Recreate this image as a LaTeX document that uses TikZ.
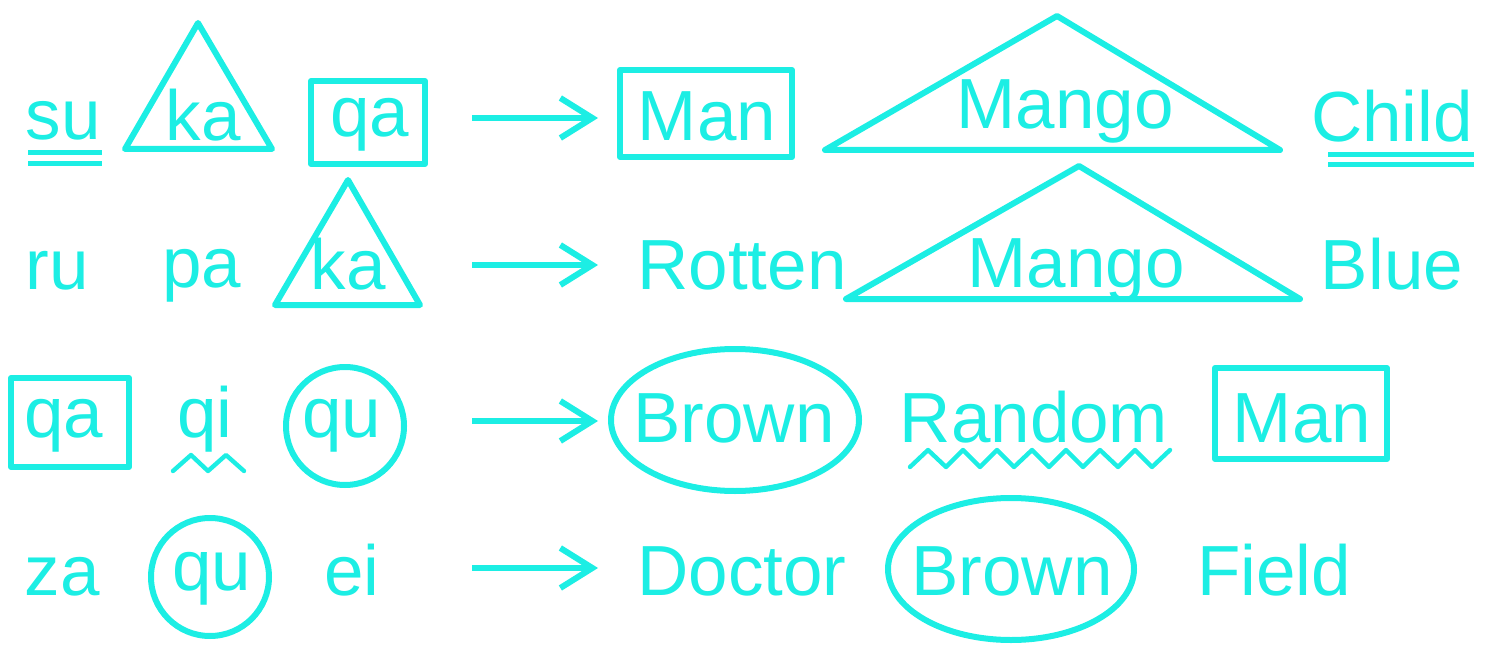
\documentclass[tikz,border=0pt]{standalone}
\usepackage{fontspec}
\setmainfont{Liberation Sans}
\usepackage{tikz}
\usetikzlibrary{arrows.meta}
\definecolor{aqua}{RGB}{28,238,228}

\begin{document}
\begin{tikzpicture}[x=0.5pt,y=-0.5pt,
  word/.style={anchor=base,inner sep=0pt,text=aqua,font=\fontsize{35.5}{40}\selectfont},
  outline/.style={draw=aqua,line width=3pt,line join=round},
  twoline/.style={draw=aqua,line width=2.5pt},
  wiggle/.style={draw=aqua,line width=2.2pt,line cap=round,line join=round},
  maps/.style={draw=aqua,line width=3pt,-{Straight Barb[length=16pt,width=20pt]}}]
  \path[use as bounding box] (0,0) rectangle (1493,668);

  % row 1
  \node[word] (s1su) at (63,140) {su};
  \node[word] (s1ka) at (203,141) {ka};
  \node[word] (s1qa) at (370,137) {qa};
  \node[word] (t1man) at (707,141) {Man};
  \node[word] (t1mango) at (1065,129) {Mango};
  \node[word] (t1child) at (1392,142) {Child};
  \draw[twoline] (28,153) -- (102,153) (28,163.5) -- (102,163.5);
  \draw[outline] (198,23) -- (125,149) -- (272,149) -- cycle;
  \draw[outline] (311,81) rectangle (425,164);
  \draw[outline] (620,70) rectangle (792,157);
  \draw[outline] (1057,16) -- (825,150) -- (1280,150) -- cycle;
  \draw[twoline] (1328,154.5) -- (1474,154.5) (1328,164.5) -- (1474,164.5);

  % row 2
  \node[word] (s2ru) at (57,290) {ru};
  \node[word] (s2pa) at (202,287) {pa};
  \node[word] (s2ka) at (348,290) {ka};
  \node[word] (t2rotten) at (742,290) {Rotten};
  \node[word] (t2mango) at (1076,287) {Mango};
  \node[word] (t2blue) at (1392,290) {Blue};
  \draw[outline] (348,180) -- (275,305) -- (420,305) -- cycle;
  \draw[outline] (1079,166) -- (846,299) -- (1300,299) -- cycle;

  % row 3
  \node[word] (s3qa) at (64,437) {qa};
  \node[word] (s3qi) at (205,437) {qi};
  \node[word] (s3qu) at (342,437) {qu};
  \node[word] (t3brown) at (734,442) {Brown};
  \node[word] (t3random) at (1034,442) {Random};
  \node[word] (t3man) at (1302,442) {Man};
  \draw[outline] (11,378) rectangle (129,467);
  \draw[wiggle] (173,471) -- (191,455) -- (208,471) -- (226,455) -- (244,471);
  \draw[outline] (345,426) circle [radius=59];
  \draw[outline] (735,420) ellipse [x radius=124, y radius=71];
  \draw[wiggle] (910,467) -- (928,450) -- (946,467) -- (963,450) -- (980,467)
    -- (997,450) -- (1014,467) -- (1032,450) -- (1049,467) -- (1066,450)
    -- (1083,467) -- (1100,450) -- (1118,467) -- (1135,450) -- (1152,467)
    -- (1170,450);
  \draw[outline] (1215,368) rectangle (1387,459);

  % row 4
  \node[word] (s4za) at (62,595) {za};
  \node[word] (s4qu) at (212,590) {qu};
  \node[word] (s4ei) at (352,595) {ei};
  \node[word] (t4doctor) at (742,595) {Doctor};
  \node[word] (t4brown) at (1012,595) {Brown};
  \node[word] (t4field) at (1274,595) {Field};
  \draw[outline] (210,577) circle [radius=59];
  \draw[outline] (1011,569) ellipse [x radius=123, y radius=71];

  % arrows
  \coordinate (a1from) at (472,118);
  \coordinate (a1to) at (598,118);
  \coordinate (a2from) at (472,265);
  \coordinate (a2to) at (598,265);
  \coordinate (a3from) at (472,421);
  \coordinate (a3to) at (598,421);
  \coordinate (a4from) at (472,568);
  \coordinate (a4to) at (598,568);
  \draw[maps] (a1from) -- (a1to);
  \draw[maps] (a2from) -- (a2to);
  \draw[maps] (a3from) -- (a3to);
  \draw[maps] (a4from) -- (a4to);
\end{tikzpicture}
\end{document}
